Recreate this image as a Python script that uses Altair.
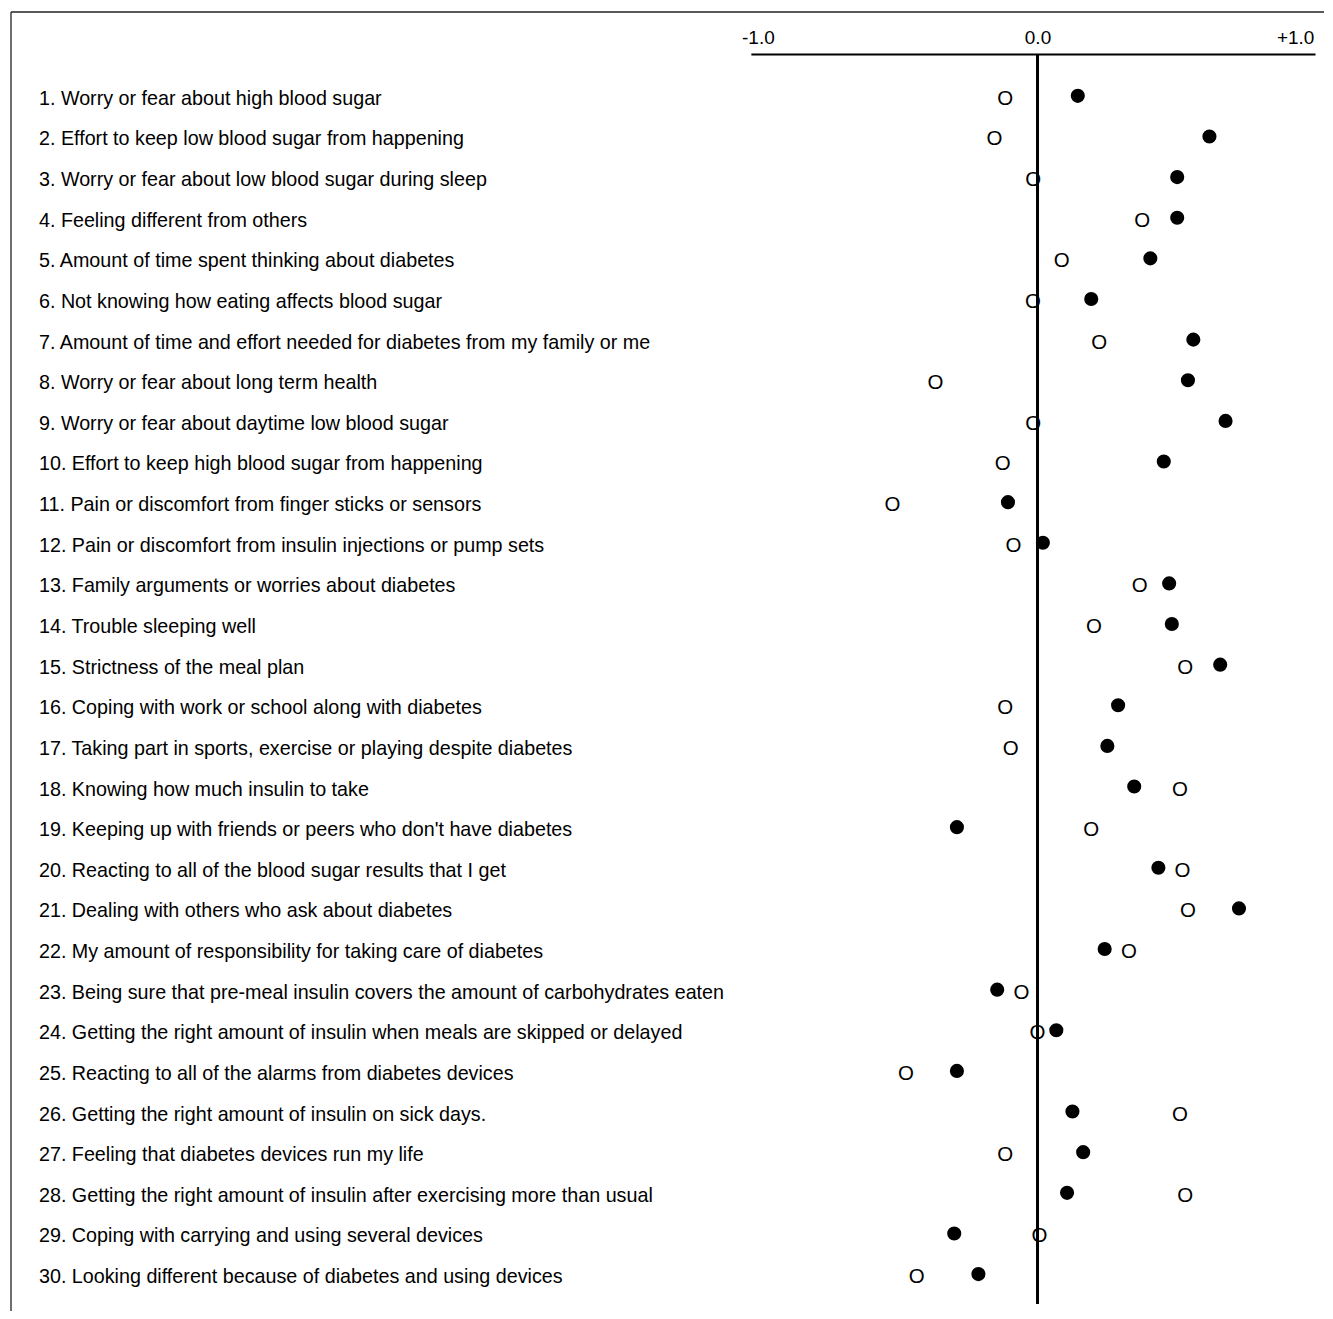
import altair as alt
import pandas as pd

items = [
    "1. Worry or fear about high blood sugar",
    "2. Effort to keep low blood sugar from happening",
    "3. Worry or fear about low blood sugar during sleep",
    "4. Feeling different from others",
    "5. Amount of time spent thinking about diabetes",
    "6. Not knowing how eating affects blood sugar",
    "7. Amount of time and effort needed for diabetes from my family or me",
    "8. Worry or fear about long term health",
    "9. Worry or fear about daytime low blood sugar",
    "10. Effort to keep high blood sugar from happening",
    "11. Pain or discomfort from finger sticks or sensors",
    "12. Pain or discomfort from insulin injections or pump sets",
    "13. Family arguments or worries about diabetes",
    "14. Trouble sleeping well",
    "15. Strictness of the meal plan",
    "16. Coping with work or school along with diabetes",
    "17. Taking part in sports, exercise or playing despite diabetes",
    "18. Knowing how much insulin to take",
    "19. Keeping up with friends or peers who don't have diabetes",
    "20. Reacting to all of the blood sugar results that I get",
    "21. Dealing with others who ask about diabetes",
    "22. My amount of responsibility for taking care of diabetes",
    "23. Being sure that pre-meal insulin covers the amount of carbohydrates eaten",
    "24. Getting the right amount of insulin when meals are skipped or delayed",
    "25. Reacting to all of the alarms from diabetes devices",
    "26. Getting the right amount of insulin on sick days.",
    "27. Feeling that diabetes devices run my life",
    "28. Getting the right amount of insulin after exercising more than usual",
    "29. Coping with carrying and using several devices",
    "30. Looking different because of diabetes and using devices",
]

filled_values = [0.15, 0.64, 0.52, 0.52, 0.42, 0.20, 0.58, 0.56, 0.70, 0.47,
                 -0.11, 0.02, 0.49, 0.50, 0.68, 0.30, 0.26, 0.36, -0.30, 0.45,
                 0.75, 0.25, -0.15, 0.07, -0.30, 0.13, 0.17, 0.11, -0.31, -0.22]

open_values = [-0.12, -0.16, -0.016, 0.39, 0.09, -0.017, 0.23, -0.38, -0.016, -0.13,
               -0.54, -0.09, 0.38, 0.21, 0.55, -0.12, -0.10, 0.53, 0.20, 0.54,
               0.56, 0.34, -0.06, 0.0, -0.49, 0.53, -0.12, 0.55, 0.007, -0.45]

tick_values = [-1, 0, 1]

FONT = "Liberation Sans"
W, H = 1315, 1301

df_filled = pd.DataFrame({"item": items, "value": filled_values})
df_open = pd.DataFrame({"item": items, "value": open_values})
df_labels = pd.DataFrame({"item": items})
one = pd.DataFrame({"k": [0]})

x_scale = alt.Scale(domain=[-1.067, 1.033], range=[741, 1306], nice=False, zero=False)
y_scale = alt.Scale(type="point", domain=items, range=[87, 1267], padding=0)

x_axis = alt.Axis(
    orient="top", values=tick_values, title=None, grid=False, ticks=False,
    offset=-42, domainColor="black", domainWidth=2,
    labelFont=FONT, labelFontSize=19, labelColor="black", labelPadding=6,
    labelExpr="datum.value > 0 ? '+1.0' : (datum.value < 0 ? '-1.0' : '0.0')",
    labelOffset={"condition": {"test": "datum.value != 0", "value": -11}, "value": 0},
)

frame_top = alt.Chart(one).mark_rule(color="#222", strokeWidth=1.3).encode(
    x=alt.value(0), x2=alt.value(W), y=alt.value(0)
)
frame_left = alt.Chart(one).mark_rule(color="#222", strokeWidth=1.3).encode(
    x=alt.value(0), y=alt.value(0), y2=alt.value(H)
)

zero_line = alt.Chart(one).mark_rule(color="black", strokeWidth=3).encode(
    x=alt.datum(0, scale=x_scale, axis=x_axis, type="quantitative"),
    y=alt.value(42), y2=alt.value(1294),
)

labels = alt.Chart(df_labels).mark_text(
    align="left", baseline="middle", font=FONT, fontSize=19.75, color="black"
).encode(
    x=alt.value(28),
    y=alt.Y("item:N", scale=y_scale, axis=None, sort=items),
    text="item:N",
)

open_pts = alt.Chart(df_open).mark_text(
    text="O", align="center", baseline="middle", font=FONT, fontSize=20.5, color="black"
).encode(
    x=alt.X("value:Q", scale=x_scale, axis=x_axis),
    y=alt.Y("item:N", scale=y_scale, axis=None, sort=items),
)

filled_pts = alt.Chart(df_filled).mark_point(
    shape="circle", filled=True, size=200, color="black", opacity=1, yOffset=-3
).encode(
    x=alt.X("value:Q", scale=x_scale, axis=x_axis),
    y=alt.Y("item:N", scale=y_scale, axis=None, sort=items),
)

chart = alt.layer(
    frame_top, frame_left, zero_line, labels, open_pts, filled_pts
).properties(
    width=W, height=H,
    padding={"left": 2, "top": 2, "right": 0, "bottom": 0},
    background="white",
).configure_view(stroke=None)

chart.save("out.html", embed_options={"renderer": "svg", "actions": False})
